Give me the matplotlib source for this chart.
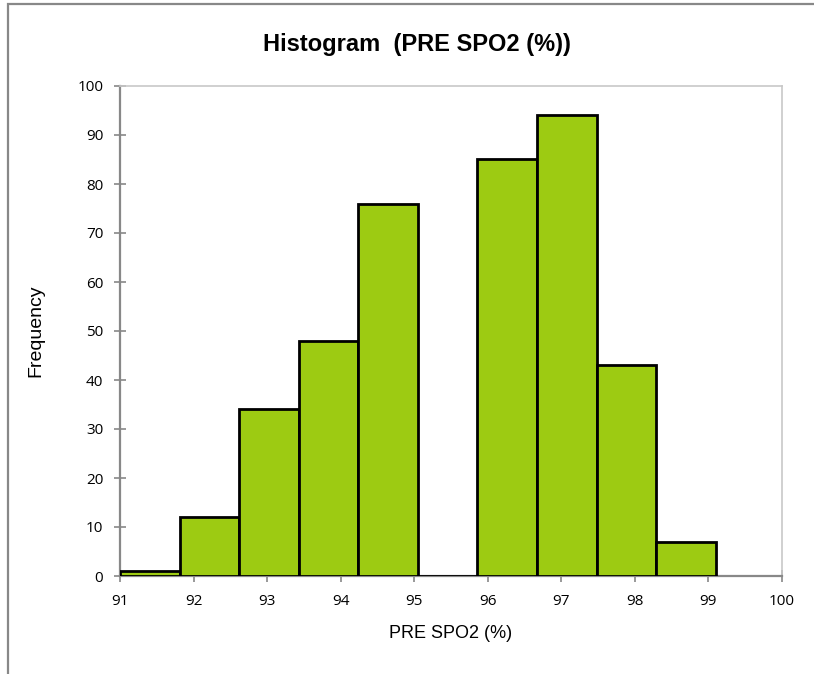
import matplotlib
matplotlib.use("Agg")
import matplotlib.pyplot as plt
from matplotlib.patches import Rectangle

bin_start = 91.0
bin_width = 0.81
frequencies = [1, 12, 34, 48, 76, 0, 85, 94, 43, 7]
x_ticks = [91, 92, 93, 94, 95, 96, 97, 98, 99, 100]
y_ticks = [0, 10, 20, 30, 40, 50, 60, 70, 80, 90, 100]

fig = plt.figure(figsize=(8.14, 6.74), dpi=100)
ax = fig.add_axes([120/814, 1-576/674, (782-120)/814, (576-86)/674])

edges = [bin_start + i*bin_width for i in range(len(frequencies))]
ax.bar(edges, frequencies, width=bin_width, align='edge', color='#9dcb12',
       edgecolor='black', linewidth=2, zorder=3)

ax.set_xlim(91, 100)
ax.set_ylim(0, 100)
ax.set_xticks(x_ticks)
ax.set_yticks(y_ticks)
tick_font = dict(family=['Open Sans', 'DejaVu Sans'], size=11)
ax.set_xticklabels([str(t) for t in x_ticks], **tick_font)
ax.set_yticklabels([str(t) for t in y_ticks], **tick_font)
ax.tick_params(axis='both', direction='inout', length=8, width=1.2, color='#888888',
               labelcolor='black')
ax.tick_params(axis='y', pad=8)
ax.tick_params(axis='x', pad=9)

for s in ['left', 'bottom']:
    ax.spines[s].set_color('#888888')
    ax.spines[s].set_linewidth(1.6)
for s in ['top', 'right']:
    ax.spines[s].set_color('#c8c8c8')
    ax.spines[s].set_linewidth(1.2)

ax.set_xlabel('PRE SPO2 (%)', family=['Liberation Sans', 'DejaVu Sans'], size=13)
ax.set_ylabel('Frequency', family=['Liberation Sans', 'DejaVu Sans'], size=14)
ax.xaxis.set_label_coords(0.5, (576-625)/490)
ax.yaxis.set_label_coords((44-120)/662, 0.5)
fig.text(417/814, 1-45/674, 'Histogram  (PRE SPO2 (%))', ha='center', va='center',
         family=['Liberation Sans Narrow', 'Liberation Sans', 'DejaVu Sans'],
         weight='bold', size=17)

fig.add_artist(Rectangle((8/814, -0.1), 1.2, 1.1 - 4/674, transform=fig.transFigure,
                         fill=False, edgecolor='#888888', linewidth=1.6))

fig.savefig('out.png', dpi=100)
